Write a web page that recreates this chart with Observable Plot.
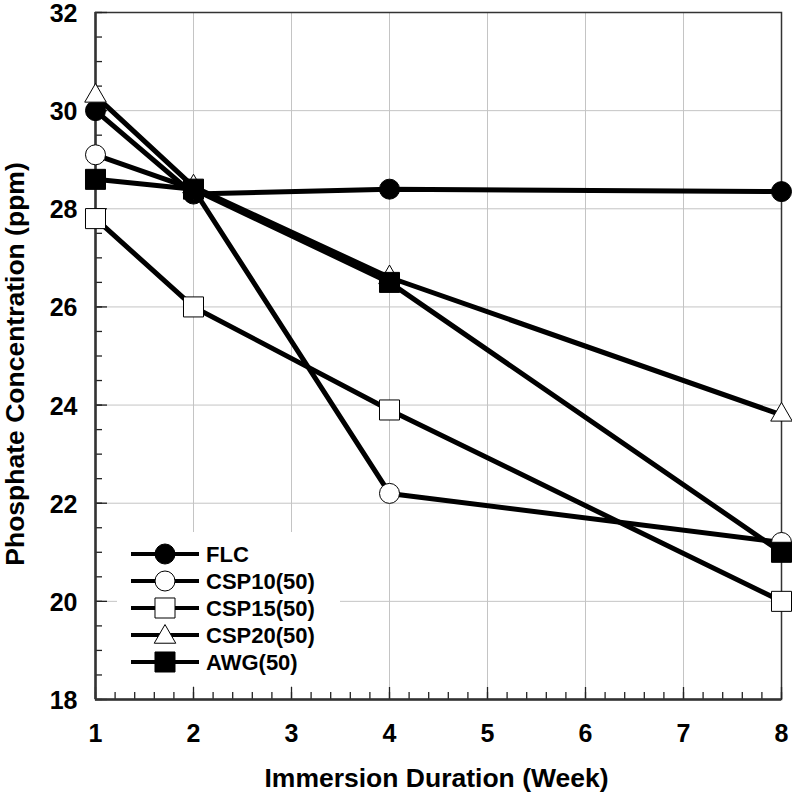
<!DOCTYPE html>
<html>
<head>
<meta charset="utf-8">
<script src="https://cdn.jsdelivr.net/npm/d3@7"></script>
<script src="https://cdn.jsdelivr.net/npm/@observablehq/plot@0.6"></script>
<style>
  html, body { margin: 0; padding: 0; background: #fff; }
  #chart { width: 792px; height: 796px; }
</style>
</head>
<body>
<div id="chart"></div>
<script>
// ---- data ----
const weeks = [1, 2, 4, 8];
const seriesNames = ["FLC", "CSP10(50)", "CSP15(50)", "CSP20(50)", "AWG(50)"];
const FLC   = [30.0, 28.3, 28.4, 28.35];
const CSP10 = [29.1, 28.4, 22.2, 21.2];
const CSP15 = [27.8, 26.0, 23.9, 20.0];
const CSP20 = [30.3, 28.45, 26.6, 23.8];
const AWG   = [28.6, 28.4, 26.5, 21.0];
const xTicks = [1, 2, 3, 4, 5, 6, 7, 8];
const yTicks = [18, 20, 22, 24, 26, 28, 30, 32];
const xLabel = "Immersion Duration (Week)";
const yLabel = "Phosphate Concentration (ppm)";

// ---- styles ----
const values = [FLC, CSP10, CSP15, CSP20, AWG];
const symbols = ["circle", "circle", "square", "triangle", "square"];
const fills = ["black", "white", "white", "white", "black"];
const radii = [10, 10, 11.3, 8, 11.3];

const rows = seriesNames.flatMap((name, i) =>
  weeks.map((w, j) => ({ series: name, week: w, value: values[i][j], idx: i })));

const xMinor = d3.range(1, 8.0001, 0.2).map(v => +v.toFixed(2));
const yMinor = d3.range(18, 32.0001, 0.5);

const font = "'Liberation Sans', Arial, Helvetica, sans-serif";

const dotMarks = seriesNames.map((name, i) =>
  Plot.dot(rows.filter(d => d.idx === i), {
    x: "week", y: "value", symbol: () => symbols[i],
    r: radii[i], fill: fills[i], stroke: "black", strokeWidth: 1, fillOpacity: 1
  }));

const chart = Plot.plot({
  width: 792,
  height: 796,
  marginLeft: 95,
  marginRight: 11,
  marginTop: 12,
  marginBottom: 97,
  style: { fontFamily: font, fontSize: "25px", fontWeight: "bold", background: "white", color: "black" },
  x: { type: "linear", domain: [1, 8], label: null },
  y: { type: "linear", domain: [18, 32], label: null },
  symbol: { type: "identity" },
  marks: [
    Plot.gridX(xTicks, { stroke: "#c4c4c4", strokeOpacity: 1, strokeWidth: 1 }),
    Plot.gridY(yTicks, { stroke: "#c4c4c4", strokeOpacity: 1, strokeWidth: 1 }),
    Plot.frame({ stroke: "#333", strokeWidth: 1.5 }),
    Plot.axisX(xMinor, { tickSize: -7, tickFormat: () => "", label: null, stroke: "#222", strokeWidth: 1.3 }),
    Plot.axisX(xTicks, { tickSize: -12, tickFormat: () => "", label: null, stroke: "#222", strokeWidth: 1.3 }),
    Plot.axisX(xTicks, { tickSize: 0, tickPadding: 25, label: null, fontSize: 25, fontWeight: "bold", fill: "black" }),
    Plot.axisY(yMinor, { tickSize: -7, tickFormat: () => "", label: null, stroke: "#222", strokeWidth: 1.3 }),
    Plot.axisY(yTicks, { tickSize: -12, tickFormat: () => "", label: null, stroke: "#222", strokeWidth: 1.3 }),
    Plot.axisY(yTicks, { tickSize: 0, tickPadding: 18, dy: 1.5, label: null, fontSize: 25, fontWeight: "bold", fill: "black" }),
    Plot.ruleX([1], { stroke: "#333", strokeWidth: 2.5 }),
    Plot.ruleY([18], { stroke: "#333", strokeWidth: 2.5 }),
    Plot.text([xLabel], { frameAnchor: "bottom", lineAnchor: "middle", textAnchor: "middle", dy: 79, dx: -2, fontSize: 26.5, fontWeight: "bold", fill: "black" }),
    Plot.text([yLabel], { frameAnchor: "left", lineAnchor: "middle", textAnchor: "middle", dx: -80, dy: 8, rotate: -90, fontSize: 26.5, fontWeight: "bold", fill: "black" }),
    Plot.line(rows, { x: "week", y: "value", z: "series", stroke: "black", strokeWidth: 5, strokeLinejoin: "round" }),
    ...dotMarks
  ]
});

// ---- legend (inside plot, lower left) ----
const svg = d3.select(chart);
const lg = svg.append("g").attr("class", "legend").attr("text-anchor", "start");
lg.append("rect").attr("x", 117).attr("y", 532).attr("width", 223).attr("height", 154).attr("fill", "white");
const sym = { circle: d3.symbolCircle, square: d3.symbolSquare, triangle: d3.symbolTriangle };
seriesNames.forEach((name, i) => {
  const cy = 554 + i * 27;
  lg.append("line").attr("x1", 131).attr("x2", 199).attr("y1", cy).attr("y2", cy)
    .attr("stroke", "black").attr("stroke-width", 4);
  lg.append("path")
    .attr("d", d3.symbol(sym[symbols[i]], Math.PI * radii[i] * radii[i])())
    .attr("transform", `translate(165,${cy + (symbols[i] === "triangle" ? 2 : 0)})`)
    .attr("fill", fills[i]).attr("stroke", "black").attr("stroke-width", 1);
  lg.append("text").attr("x", 206).attr("y", cy).attr("dy", "0.36em")
    .attr("text-anchor", "start")
    .attr("font-family", font).attr("font-size", 22).attr("font-weight", "bold")
    .attr("fill", "black").text(name);
});

document.getElementById("chart").appendChild(chart);
</script>
</body>
</html>
